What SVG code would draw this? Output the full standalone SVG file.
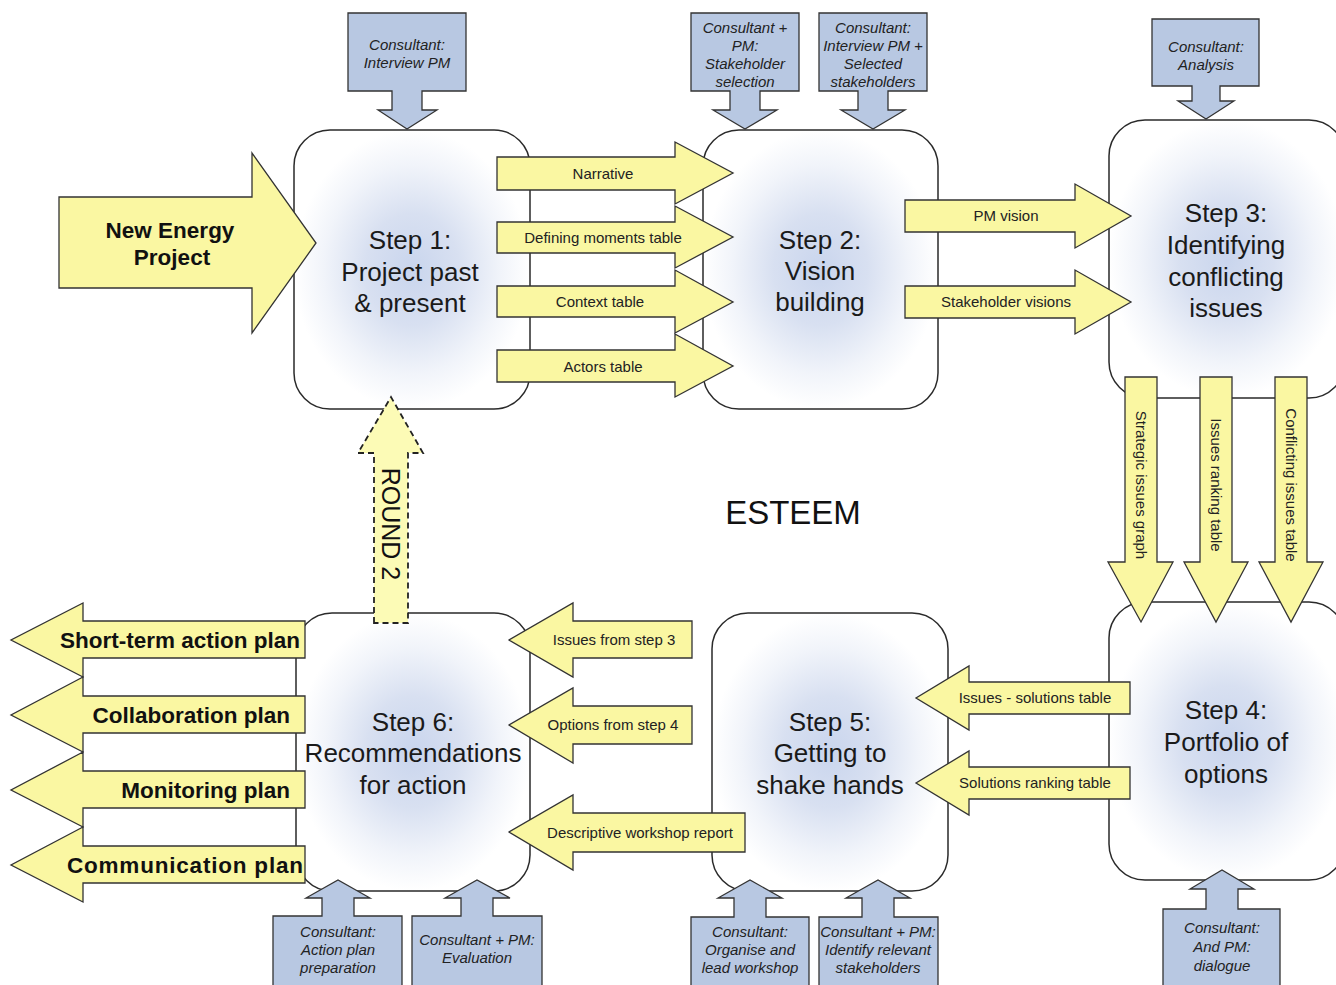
<svg xmlns="http://www.w3.org/2000/svg" width="1336" height="985" viewBox="0 0 1336 985">
<defs>
<radialGradient id="glow" cx="50%" cy="50%" r="50%">
<stop offset="0" stop-color="#c9d5ed"/>
<stop offset="0.4" stop-color="#d8e0f1"/>
<stop offset="0.75" stop-color="#f1f4fa"/>
<stop offset="1" stop-color="#ffffff"/>
</radialGradient>
<style>
.box{fill:url(#glow);stroke:#2a2a2a;stroke-width:1.5}
.step{font-family:"Liberation Sans",Arial,sans-serif;font-size:26px;fill:#1a1a1a;text-anchor:middle}
.ya{fill:#faf7a2;stroke:#333;stroke-width:1.3;stroke-linejoin:miter}
.yt{font-family:"Liberation Sans",Arial,sans-serif;font-size:15px;fill:#222;text-anchor:middle}
.yb{font-family:"Liberation Sans",Arial,sans-serif;font-size:22.5px;font-weight:bold;fill:#111}
.ba{fill:#b8c8e2;stroke:#333;stroke-width:1.3}
.bt{font-family:"Liberation Sans",Arial,sans-serif;font-size:15px;font-style:italic;fill:#222;text-anchor:middle}
.round{fill:#fcfbb6;stroke:#222;stroke-width:1.8;stroke-dasharray:6,4}
</style>
</defs>
<rect width="1336" height="985" fill="#ffffff"/>

<g id="step1"><rect class="box" x="294" y="130" width="236" height="279" rx="36"/>
<text class="step" x="410" y="249">Step 1:</text><text class="step" x="410" y="281">Project past</text><text class="step" x="410" y="312">&amp; present</text></g>
<g id="step2"><rect class="box" x="703" y="130" width="235" height="279" rx="36"/>
<text class="step" x="820" y="249">Step 2:</text><text class="step" x="820" y="280">Vision</text><text class="step" x="820" y="311">building</text></g>
<g id="step3"><rect class="box" x="1109" y="120" width="236" height="278" rx="36"/>
<text class="step" x="1226" y="222">Step 3:</text><text class="step" x="1226" y="254">Identifying</text><text class="step" x="1226" y="286">conflicting</text><text class="step" x="1226" y="317">issues</text></g>
<g id="step4"><rect class="box" x="1109" y="602" width="236" height="278" rx="36"/>
<text class="step" x="1226" y="719">Step 4:</text><text class="step" x="1226" y="751">Portfolio of</text><text class="step" x="1226" y="783">options</text></g>
<g id="step5"><rect class="box" x="712" y="613" width="236" height="278" rx="36"/>
<text class="step" x="830" y="731">Step 5:</text><text class="step" x="830" y="762">Getting to</text><text class="step" x="830" y="794">shake hands</text></g>
<g id="step6"><rect class="box" x="296" y="613" width="234" height="278" rx="36"/>
<text class="step" x="413" y="731">Step 6:</text><text class="step" x="413" y="762">Recommendations</text><text class="step" x="413" y="794">for action</text></g>

<g id="title"><text x="793" y="524" font-family="Liberation Sans,Arial,sans-serif" font-size="33" fill="#111" text-anchor="middle">ESTEEM</text></g>

<g id="connectors">
<g id="new-energy"><path class="ya" d="M59,197 H252 V153 L316,243 L252,333 V288 H59 Z"/>
<text class="yb" x="170" y="238" text-anchor="middle" font-size="22">New Energy</text><text class="yb" x="172" y="265" text-anchor="middle" font-size="22">Project</text></g>

<path class="ya" d="M497,157 H675 V142 L733,173 L675,204 V190 H497 Z"/><text class="yt" x="603" y="179">Narrative</text>
<path class="ya" d="M497,222 H675 V206 L733,237 L675,268 V253 H497 Z"/><text class="yt" x="603" y="243">Defining moments table</text>
<path class="ya" d="M497,286 H675 V270 L733,302 L675,333 V317 H497 Z"/><text class="yt" x="600" y="307">Context table</text>
<path class="ya" d="M497,350 H675 V334 L733,366 L675,397 V382 H497 Z"/><text class="yt" x="603" y="372">Actors table</text>

<path class="ya" d="M905,200 H1075 V184 L1131,216 L1075,248 V232 H905 Z"/><text class="yt" x="1006" y="221">PM vision</text>
<path class="ya" d="M905,286 H1075 V270 L1131,302 L1075,334 V318 H905 Z"/><text class="yt" x="1006" y="307">Stakeholder visions</text>

<path class="ya" d="M1125,377 H1157 V562 H1173 L1141,622 L1108,562 H1125 Z"/><text class="yt" transform="translate(1141,485) rotate(90)" y="5">Strategic issues graph</text>
<path class="ya" d="M1200,377 H1232 V562 H1248 L1216,622 L1184,562 H1200 Z"/><text class="yt" transform="translate(1216,485) rotate(90)" y="5">Issues ranking table</text>
<path class="ya" d="M1275,377 H1307 V562 H1323 L1291,622 L1259,562 H1275 Z"/><text class="yt" transform="translate(1291,485) rotate(90)" y="5">Conflicting issues table</text>

<path class="ya" d="M1130,682 H969 V666 L916,698 L969,730 V714 H1130 Z"/><text class="yt" x="1035" y="703">Issues - solutions table</text>
<path class="ya" d="M1130,767 H969 V751 L916,783 L969,815 V799 H1130 Z"/><text class="yt" x="1035" y="788">Solutions ranking table</text>

<path class="ya" d="M692,621 H573 V603 L509,640 L573,677 V658 H692 Z"/><text class="yt" x="614" y="645">Issues from step 3</text>
<path class="ya" d="M692,706 H573 V688 L509,725 L573,763 V744 H692 Z"/><text class="yt" x="613" y="730">Options from step 4</text>
<path class="ya" d="M745,813 H573 V795 L509,832 L573,870 V852 H745 Z"/><text class="yt" x="640" y="838">Descriptive workshop report</text>

<path class="ya" d="M305,621 H83 V603 L11,640 L83,677 V658 H305 Z"/><text class="yb" x="300" y="648" text-anchor="end">Short-term action plan</text>
<path class="ya" d="M305,696 H83 V677 L11,715 L83,752 V733 H305 Z"/><text class="yb" x="290" y="723" text-anchor="end">Collaboration plan</text>
<path class="ya" d="M305,771 H83 V752 L11,790 L83,827 V808 H305 Z"/><text class="yb" x="290" y="798" text-anchor="end">Monitoring plan</text>
<path class="ya" d="M305,846 H83 V827 L11,865 L83,902 V883 H305 Z"/><text class="yb" x="67" y="873" textLength="236" lengthAdjust="spacing">Communication plan</text>

<g id="round2"><path class="round" d="M374,623 V453 H358 L391,397 L423,453 H408 V623 Z"/>
<text transform="translate(391,524) rotate(90)" y="9" font-family="Liberation Sans,Arial,sans-serif" font-size="25" fill="#111" text-anchor="middle">ROUND 2</text></g>
</g>

<g id="in-step1"><path class="ba" d="M348,13 H466 V91 H422 V110 H437 L407,129 L378,110 H392 V91 H348 Z"/>
<text class="bt" x="407" y="50">Consultant:</text><text class="bt" x="407" y="68">Interview PM</text></g>
<g id="in-step2a"><path class="ba" d="M691,13 H799 V91 H760 V110 H777 L745,129 L713,110 H730 V91 H691 Z"/>
<text class="bt" x="745" y="33">Consultant +</text><text class="bt" x="745" y="51">PM:</text><text class="bt" x="745" y="69">Stakeholder</text><text class="bt" x="745" y="87">selection</text></g>
<g id="in-step2b"><path class="ba" d="M819,13 H927 V91 H888 V110 H905 L873,129 L841,110 H858 V91 H819 Z"/>
<text class="bt" x="873" y="33">Consultant:</text><text class="bt" x="873" y="51">Interview PM +</text><text class="bt" x="873" y="69">Selected</text><text class="bt" x="873" y="87">stakeholders</text></g>
<g id="in-step3"><path class="ba" d="M1152,19 H1259 V86 H1220 V101 H1234 L1206,119 L1178,101 H1192 V86 H1152 Z"/>
<text class="bt" x="1206" y="52">Consultant:</text><text class="bt" x="1206" y="70">Analysis</text></g>

<g id="in-step6a"><path class="ba" d="M273,990 V916 H322 V898 H306 L338,880 L370,898 H354 V916 H402 V990 Z"/>
<text class="bt" x="338" y="937">Consultant:</text><text class="bt" x="338" y="955">Action plan</text><text class="bt" x="338" y="973">preparation</text></g>
<g id="in-step6b"><path class="ba" d="M412,990 V916 H461 V898 H445 L477,880 L510,898 H493 V916 H542 V990 Z"/>
<text class="bt" x="477" y="945">Consultant + PM:</text><text class="bt" x="477" y="963">Evaluation</text></g>
<g id="in-step5a"><path class="ba" d="M691,990 V917 H734 V898 H718 L750,880 L782,898 H766 V917 H809 V990 Z"/>
<text class="bt" x="750" y="937">Consultant:</text><text class="bt" x="750" y="955">Organise and</text><text class="bt" x="750" y="973">lead workshop</text></g>
<g id="in-step5b"><path class="ba" d="M819,990 V917 H862 V898 H846 L878,880 L910,898 H894 V917 H938 V990 Z"/>
<text class="bt" x="878" y="937">Consultant + PM:</text><text class="bt" x="878" y="955">Identify relevant</text><text class="bt" x="878" y="973">stakeholders</text></g>
<g id="in-step4"><path class="ba" d="M1163,990 V909 H1206 V889 H1190 L1222,870 L1254,889 H1238 V909 H1280 V990 Z"/>
<text class="bt" x="1222" y="933">Consultant:</text><text class="bt" x="1222" y="952">And PM:</text><text class="bt" x="1222" y="971">dialogue</text></g>
</svg>
